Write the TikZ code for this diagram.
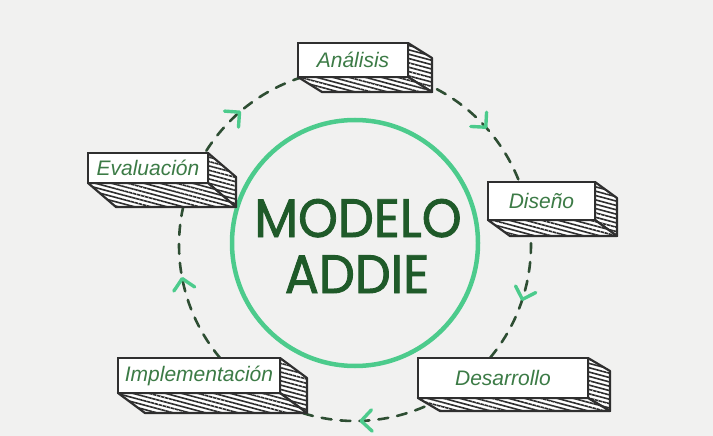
\documentclass[tikz,border=0pt]{standalone}
\usepackage{fontspec}
\usetikzlibrary{calc,patterns.meta}
\newfontfamily\titlefont{Poppins}[FakeBold=1.6]
\newfontfamily\handfont{Liberation Sans}
\definecolor{bgc}{HTML}{F1F1F0}
\definecolor{mint}{HTML}{4CCB8C}
\definecolor{darkg}{HTML}{1F5A29}
\definecolor{dashg}{HTML}{2E4E33}
\definecolor{handg}{HTML}{3C7B46}
\definecolor{boxline}{HTML}{2F2F2F}
\tikzset{
  frontbox/.style={draw=boxline, line width=2.6pt, fill=white, inner sep=0pt,
    font=\handfont\itshape\fontsize{21}{21}\selectfont, text=handg},
  hatchface/.style={fill=white, draw=boxline, line width=2.2pt, line join=round,
    postaction={pattern={Lines[angle=-15,distance=4.2pt,line width=1.6pt]}, pattern color=boxline}},
  dashconn/.style={draw=dashg, line width=2.6pt, dash pattern=on 10pt off 9pt, line cap=round},
  chevron/.style={draw=mint, line width=3.4pt, line cap=round, line join=round},
  titletext/.style={font=\titlefont\fontsize{54}{54}\selectfont, text=darkg, inner sep=0pt, anchor=base, xscale=0.94}
}
% name, x1, y1, x2, y2, dx, dy, text
\newcommand{\isobox}[8]{%
  \path[hatchface] (#4,#3) -- ({#4+#6},{#3+#7}) -- ({#4+#6},{#5+#7}) -- (#4,#5) -- cycle;
  \path[hatchface] (#2,#5) -- (#4,#5) -- ({#4+#6},{#5+#7}) -- ({#2+#6},{#5+#7}) -- cycle;
  \node[frontbox, minimum width={(#4-#2)*1pt}, minimum height={(#5-#3)*1pt}] (#1) at ({(#2+#4)/2},{(#3+#5)/2}) {#8};
}
\newcommand{\chev}[1]{%
  \path (c) ++(#1:176) coordinate (tip);
  \draw[chevron] (tip) ++(#1+225:15) -- (tip) -- ++(#1+315:15);
}
\newcommand{\conn}[2]{%
  \draw[dashconn] (c) ++(#1:176) arc[start angle=#1, end angle=#2, radius=176];
}
\begin{document}
\begin{tikzpicture}[x=1pt,y=-1pt]
\fill[bgc] (0,0) rectangle (713,436);
\useasboundingbox (0,0) rectangle (713,436);
\coordinate (c) at (355,245);
% connectors (dashed cycle)
\conn{-87}{-13}
\conn{-13}{42}
\conn{42}{140}
\conn{140}{200}
\conn{200}{273}
% chevrons
\chev{-42}
\chev{18}
\chev{88}
\chev{169}
\chev{229}
% central circle
\draw[mint, line width=4.5pt] (355,243) circle[radius=123];
\node[titletext] (modelo) at (358,237) {MODELO};
\node[titletext] (addie) at (357,293) {ADDIE};
% boxes
\isobox{ana}{298}{43}{408}{77}{24}{15}{Análisis}
\isobox{dis}{488}{182}{595}{220}{22}{16}{Diseño}
\isobox{des}{418}{358}{588}{398}{22}{13}{Desarrollo}
\isobox{imp}{118}{358}{280}{393}{27}{20}{Implementación}
\isobox{eva}{88}{153}{208}{183}{28}{24}{Evaluación}
\end{tikzpicture}
\end{document}
